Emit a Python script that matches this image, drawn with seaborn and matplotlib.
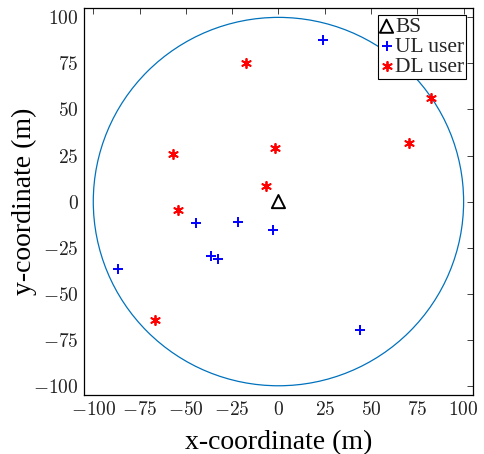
import numpy as np
import pandas as pd
import matplotlib
matplotlib.use("Agg")
import matplotlib.pyplot as plt
import seaborn as sns
from matplotlib.patches import Circle

# data
cell_radius = 100
bs_x = [0.0]
bs_y = [0.0]
ul_x = [24.2, -44.6, -22.0, -2.7, -36.6, -32.8, -86.6, 44.0]
ul_y = [87.7, -11.4, -10.9, -15.3, -29.4, -31.0, -36.5, -69.8]
dl_x = [-17.7, 82.3, -57.0, -1.6, 70.4, -6.5, -54.3, -66.7]
dl_y = [75.2, 56.1, 25.6, 28.9, 31.6, 8.7, -4.4, -64.3]
ticks = [-100, -75, -50, -25, 0, 25, 50, 75, 100]

sns.set_theme(style="white")
plt.rcParams['font.family'] = ['Liberation Serif', 'DejaVu Serif']
plt.rcParams['mathtext.fontset'] = 'cm'

fig = plt.figure(figsize=(4.84, 4.54), dpi=100)
ax = fig.add_axes([0.1736, 0.130, 0.8034, 0.852])

ax.add_patch(Circle((0, 0), cell_radius, fill=False, edgecolor='#0072BD', lw=0.9, zorder=1))

bs = pd.DataFrame({'x': bs_x, 'y': bs_y})
ul = pd.DataFrame({'x': ul_x, 'y': ul_y})
dl = pd.DataFrame({'x': dl_x, 'y': dl_y})

sns.scatterplot(data=bs, x='x', y='y', ax=ax, marker='^', s=90, facecolor='none',
                edgecolor='black', linewidth=1.4, label='BS', zorder=3)
sns.scatterplot(data=ul, x='x', y='y', ax=ax, marker='+', s=55, color='blue',
                linewidth=1.4, label='UL user', zorder=3)
sns.scatterplot(data=dl, x='x', y='y', ax=ax, marker=(6, 2, 0), s=45, color='red',
                linewidth=1.3, label='DL user', zorder=3)

ax.set_xlim(-105, 105)
ax.set_ylim(-105, 105)
ax.set_xticks(ticks)
ax.set_yticks(ticks)
ax.set_xticklabels([f'${t}$' for t in ticks])
ax.set_yticklabels([f'${t}$' for t in ticks])
ax.tick_params(direction='in', top=True, right=True, length=4, width=0.6,
               labelsize=14, colors='#222222', pad=4)
for sp in ax.spines.values():
    sp.set_color('black')
    sp.set_linewidth(0.9)

ax.set_xlabel('x-coordinate (m)', fontsize=20, color='black', labelpad=8)
ax.set_ylabel('y-coordinate (m)', fontsize=20, color='black', labelpad=-3)

leg = ax.legend(loc='upper right', fontsize=15.5, frameon=True, fancybox=False,
                edgecolor='black', framealpha=1, borderpad=0.1, handletextpad=0.1,
                labelspacing=0.0, handlelength=0.6, borderaxespad=0.3)
leg.get_frame().set_linewidth(0.8)

fig.savefig('out.png', dpi=100)
